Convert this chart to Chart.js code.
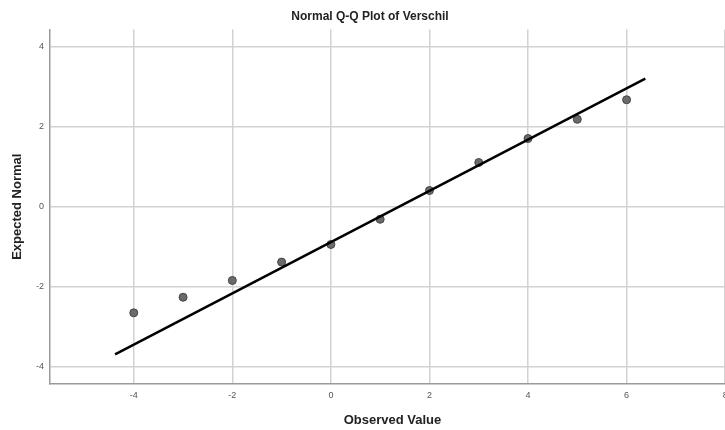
<!DOCTYPE html>
<html>
<head>
<meta charset="utf-8">
<script src="https://cdn.jsdelivr.net/npm/chart.js@4"></script>
<style>
  html, body { margin: 0; padding: 0; background: #fff; overflow: hidden; }
  #wrap { width: 725px; height: 430px; overflow: hidden; }
  #box { width: 740px; height: 430px; }
</style>
</head>
<body>
<div id="wrap"><div id="box"><canvas id="chart"></canvas></div></div>
<script>
// observed values and their expected normal values
const observed = [-4, -3, -2, -1, 0, 1, 2, 3, 4, 5, 6];
const expected = [-2.65, -2.26, -1.84, -1.38, -0.94, -0.31, 0.41, 1.11, 1.71, 2.19, 2.68];

// reference line end points
const lineX = [-4.38, 6.38];
const lineY = [-3.69, 3.21];

const xTicks = [-4, -2, 0, 2, 4, 6, 8];
const yTicks = [-4, -2, 0, 2, 4];

const FONT = "'Liberation Sans', Arial, sans-serif";
const GRID = "#d2d2d2";
const AXIS = "#9a9a9a";

function toPoints(xs, ys) {
  return xs.map((x, i) => ({ x: x, y: ys[i] }));
}

const ctx = document.getElementById("chart").getContext("2d");
new Chart(ctx, {
  type: "scatter",
  data: {
    datasets: [
      {
        label: "Observed",
        data: toPoints(observed, expected),
        backgroundColor: "#6a6a6a",
        borderColor: "#454545",
        borderWidth: 1,
        pointRadius: 4,
        order: 2,
      },
      {
        label: "Line",
        type: "line",
        data: toPoints(lineX, lineY),
        borderColor: "#000",
        borderWidth: 2.5,
        pointRadius: 0,
        fill: false,
        order: 1,
      },
    ],
  },
  options: {
    responsive: true,
    maintainAspectRatio: false,
    animation: false,
    layout: { padding: 0 },
    plugins: {
      legend: { display: false },
      tooltip: { enabled: false },
      title: {
        display: true,
        text: "Normal Q-Q Plot of Verschil",
        color: "#222",
        font: { family: FONT, size: 12, weight: "bold" },
        padding: { top: 9, bottom: 6 },
      },
    },
    scales: {
      x: {
        type: "linear",
        min: -5.7,
        max: 8.2,
        afterBuildTicks: (scale) => {
          scale.ticks = xTicks.map((v) => ({ value: v }));
        },
        afterFit: (scale) => {
          scale.height = 46;
        },
        grid: { color: GRID, lineWidth: 1.5, drawTicks: false },
        border: { color: AXIS, width: 1.5 },
        ticks: {
          color: "#555",
          padding: 6,
          font: { family: FONT, size: 9 },
        },
        title: {
          display: true,
          text: "Observed Value",
          color: "#222",
          font: { family: FONT, size: 13, weight: "bold" },
          padding: { top: 0, bottom: 2 },
        },
      },
      y: {
        type: "linear",
        min: -4.43,
        max: 4.44,
        afterBuildTicks: (scale) => {
          scale.ticks = yTicks.map((v) => ({ value: v }));
        },
        afterFit: (scale) => {
          scale.width = 50;
        },
        grid: { color: GRID, lineWidth: 1.5, drawTicks: false },
        border: { color: AXIS, width: 1.5 },
        ticks: {
          color: "#555",
          padding: 6,
          font: { family: FONT, size: 9 },
        },
        title: {
          display: true,
          text: "Expected Normal",
          color: "#222",
          font: { family: FONT, size: 13, weight: "bold" },
          padding: { top: 10, bottom: 0 },
        },
      },
    },
  },
});
</script>
</body>
</html>
